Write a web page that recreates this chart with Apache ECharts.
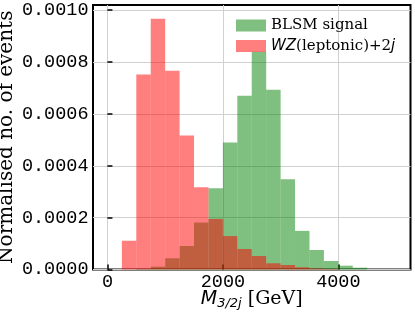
<!DOCTYPE html>
<html><head><meta charset="utf-8">
<script src="https://cdn.jsdelivr.net/npm/echarts@6/dist/echarts.min.js"></script>
<style>html,body{margin:0;padding:0;background:#fff}#c{width:415px;height:317px}</style>
</head><body><div id="c"></div>
<script>
// Bin edges (GeV), 250 GeV wide bins
const binEdges = [0,250,500,750,1000,1250,1500,1750,2000,2250,2500,2750,3000,3250,3500,3750,4000,4250,4500,4750,5000];
// Normalised densities per bin
const blsmSignal = [0,0,0.000002,0.0000108,0.0000432,0.0000907,0.000181,0.000313,0.000490,0.000670,0.000840,0.000693,0.000348,0.000149,0.0000753,0.0000328,0.0000147,0.000007,0,0];
const wzBackground = [0,0.000111,0.000752,0.000967,0.000766,0.000517,0.000317,0.000195,0.000129,0.000079,0.000052,0.000024,0.0000174,0.0000085,0.000004,0.000002,0,0,0,0];
const xTicks = [0,2000,4000];
const yTicks = [0,0.0002,0.0004,0.0006,0.0008,0.0010];
const seriesNames = ['BLSM signal','WZ(leptonic)+2j'];

function toBins(vals){
  return vals.map((v,i)=>[binEdges[i],binEdges[i+1],v]);
}
function renderItem(params, api){
  const x0 = api.value(0), x1 = api.value(1), y = api.value(2);
  if (!y) return null;
  const p0 = api.coord([x0, y]);
  const p1 = api.coord([x1, 0]);
  return {type:'rect', shape:{x:p0[0], y:p0[1], width:p1[0]-p0[0], height:p1[1]-p0[1]}, style: api.style()};
}
const serif = 'DejaVu Serif';
const tickFont = 'Liberation Mono';
const chart = echarts.init(document.getElementById('c'), null, {renderer:'canvas'});
chart.setOption({
  animation:false,
  grid:{left:93, right:4.5, top:5, bottom:47.5, show:true, borderColor:'#000', borderWidth:2,
        backgroundColor:'transparent', outerBoundsMode:'none', containLabel:false},
  legend:{
    orient:'vertical', left:236, top:18, padding:0, itemWidth:30, itemHeight:12, itemGap:5.5,
    icon:'rect',
    data:seriesNames,
    formatter:function(n){ return n===seriesNames[0] ? '{s|BLSM signal}' : '{i|WZ}{s|(leptonic)+2}{i|j}'; },
    textStyle:{fontSize:15, color:'#000', rich:{
      s:{fontFamily:serif, fontSize:15, color:'#000', lineHeight:17},
      i:{fontFamily:'DejaVu Sans', fontStyle:'italic', fontSize:15, color:'#000', lineHeight:17}
    }}
  },
  xAxis:{
    type:'value', min:-250, max:5250,
    axisLine:{show:false},
    axisTick:{show:true, inside:true, length:5, lineStyle:{color:'#000', width:1.5}, customValues:xTicks},
    axisLabel:{customValues:xTicks, fontFamily:tickFont, fontSize:18.5, color:'#000', margin:3, formatter:v=>String(v)},
    splitLine:{show:true, lineStyle:{color:'#d0d0d0', width:1}},
    name:'{m|M}{sub|3/2j}{s| [GeV]}', nameLocation:'middle', nameGap:19, nameMoveOverlap:false,
    nameTextStyle:{rich:{
      m:{fontFamily:'DejaVu Sans', fontStyle:'italic', fontSize:19, color:'#000', lineHeight:22, verticalAlign:'middle'},
      sub:{fontFamily:'DejaVu Sans', fontStyle:'italic', fontSize:13, color:'#000', lineHeight:11, verticalAlign:'bottom'},
      s:{fontFamily:serif, fontSize:19, color:'#000', lineHeight:22, verticalAlign:'middle'}
    }}
  },
  yAxis:{
    type:'value', min:0, max:0.00102,
    axisLine:{show:false},
    axisTick:{show:true, inside:true, length:5, lineStyle:{color:'#000', width:1.5}, customValues:yTicks},
    axisLabel:{customValues:yTicks, fontFamily:tickFont, fontSize:18.5, color:'#000', margin:4.5, formatter:v=>v.toFixed(4)},
    splitLine:{show:true, lineStyle:{color:'#d0d0d0', width:1}},
    name:'Normalised no. of events', nameLocation:'middle', nameGap:76, nameMoveOverlap:false,
    nameTextStyle:{fontFamily:serif, fontSize:20, color:'#000'}
  },
  series:[
    {name:seriesNames[0], type:'custom', renderItem:renderItem, data:toBins(blsmSignal),
     itemStyle:{color:'rgba(0,128,0,0.5)'}, encode:{x:[0,1], y:2}},
    {name:seriesNames[1], type:'custom', renderItem:renderItem, data:toBins(wzBackground),
     itemStyle:{color:'rgba(255,0,0,0.5)'}, encode:{x:[0,1], y:2}}
  ]
});
</script></body></html>
